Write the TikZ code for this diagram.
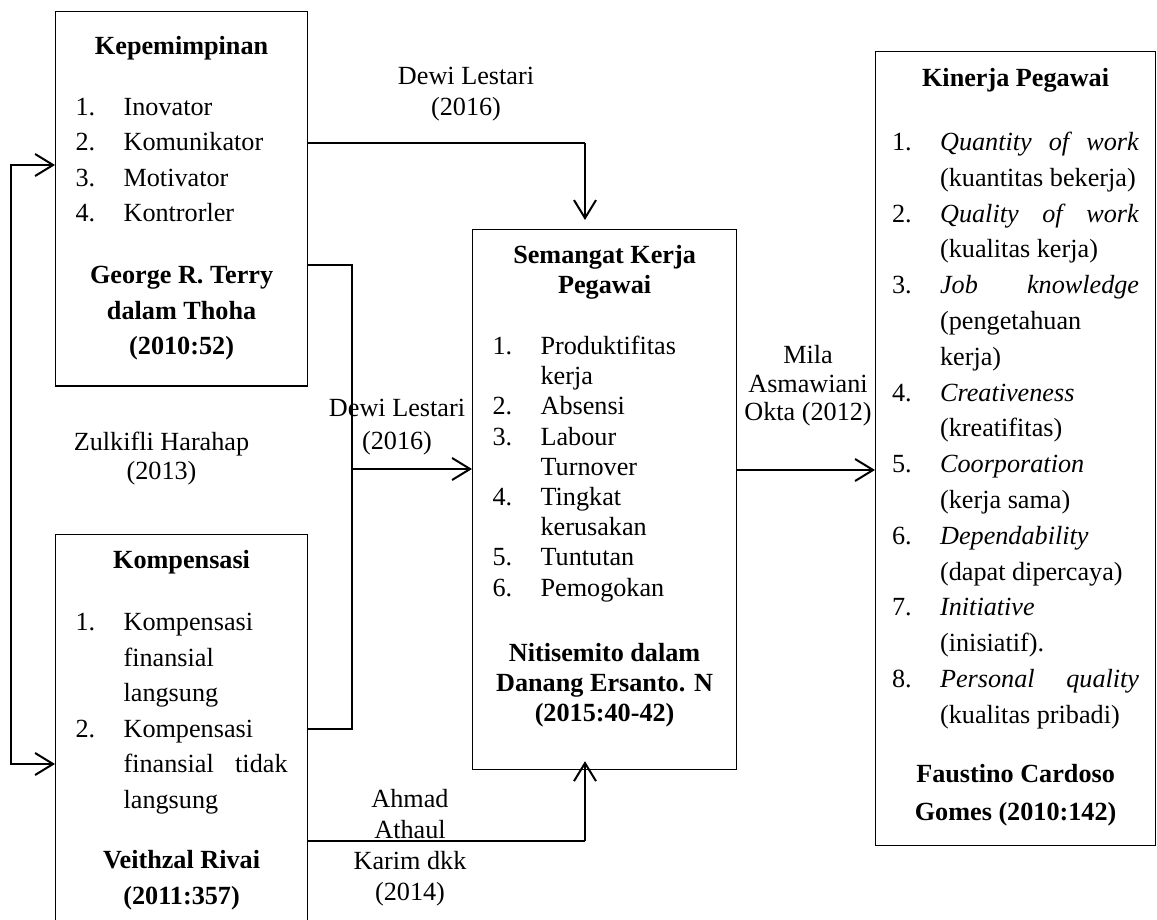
\documentclass[tikz,border=0pt]{standalone}
\usepackage{fontspec}
\setmainfont{Liberation Serif}
\usepackage{tikz}
\usetikzlibrary{positioning,arrows.meta}
\newcommand{\butir}[2]{\par\noindent\hangindent=24pt\hangafter=1\makebox[24pt][l]{#1}#2\par}
\tikzstyle{kotak}=[draw,line width=0.6pt,anchor=north west,inner ysep=0pt,align=justify,font=\fontsize{13.1}{17.75}\selectfont]
\tikzstyle{ket}=[inner sep=0pt,align=center,font=\fontsize{13.1}{15.5}\selectfont]

\begin{document}
\begin{tikzpicture}[x=0.5pt,y=-0.5pt,
    garis/.style={line width=0.6pt},
    panah/.style={line width=1pt,-{Straight Barb[length=9pt,width=11pt]}},
    panah2/.style={line width=1pt,{Straight Barb[length=9pt,width=11pt]}-{Straight Barb[length=9pt,width=11pt]}}]
  \useasboundingbox (0,0) rectangle (1157,920);

  \node[kotak,inner xsep=10pt,text width=106pt] (kep) at (55,11) {%
    {\centering\rule{0pt}{21.5pt}\textbf{Kepemimpinan}\par}
    \vspace{12.7pt}
    \butir{1.}{Inovator}
    \butir{2.}{Komunikator}
    \butir{3.}{Motivator}
    \butir{4.}{Kontrorler}
    \vspace{13.2pt}
    {\centering\textbf{George R. Terry\\dalam Thoha\\(2010:52)}\rule[-15.5pt]{0pt}{15.5pt}\par}};
  \node[kotak,inner xsep=10pt,text width=106pt] (komp) [below=73.8pt of kep.south west,anchor=north west] {%
    {\centering\rule{0pt}{17pt}\textbf{Kompensasi}\par}
    \vspace{13.25pt}
    \butir{1.}{Kompensasi\linebreak finansial\linebreak langsung}
    \butir{2.}{Kompensasi\linebreak finansial tidak\linebreak langsung}
    \vspace{12.5pt}
    {\centering\textbf{Veithzal Rivai\\(2011:357)}\rule[-12pt]{0pt}{12pt}\par}};
  \node[kotak,inner xsep=10pt,text width=112pt,font=\fontsize{13.1}{15.1}\selectfont] (sem) at (472,229) {%
    {\centering\rule{0pt}{17pt}\textbf{Semangat Kerja\\Pegawai}\par}
    \vspace{15.3pt}
    \butir{1.}{Produktifitas\linebreak kerja}
    \butir{2.}{Absensi}
    \butir{3.}{Labour\linebreak Turnover}
    \butir{4.}{Tingkat\linebreak kerusakan}
    \butir{5.}{Tuntutan}
    \butir{6.}{Pemogokan}
    \vspace{17.6pt}
    {\centering\textbf{Nitisemito dalam\\Danang Ersanto. N\\(2015:40-42)}\rule[-23.8pt]{0pt}{23.8pt}\par}};
  \node[kotak,inner xsep=8.25pt,text width=123.5pt,font=\fontsize{13.1}{17.9}\selectfont] (kin) at (875,51) {%
    {\centering\rule{0pt}{17.5pt}\textbf{Kinerja Pegawai}\par}
    \vspace{14.1pt}
    \butir{1.}{\emph{Quantity of work}\linebreak (kuantitas bekerja)}
    \butir{2.}{\emph{Quality of work}\linebreak (kualitas kerja)}
    \butir{3.}{\emph{Job knowledge}\linebreak (pengetahuan\linebreak kerja)}
    \butir{4.}{\emph{Creativeness}\linebreak (kreatifitas)}
    \butir{5.}{\emph{Coorporation}\linebreak (kerja sama)}
    \butir{6.}{\emph{Dependability}\linebreak (dapat dipercaya)}
    \butir{7.}{\emph{Initiative}\linebreak (inisiatif).}
    \butir{8.}{\emph{Personal quality}\linebreak (kualitas pribadi)}
    \vspace{11.7pt}
    {\centering\textbf{Faustino Cardoso\\[1.1pt]Gomes (2010:142)}\rule[-12.5pt]{0pt}{12.5pt}\par}};

  \node[ket] (dl1) at (466,94.5) {Dewi Lestari\\(2016)};
  \node[ket,font=\fontsize{13.1}{16.5}\selectfont] (dl2) at (397,427.5) {Dewi Lestari\\(2016)};
  \node[ket,font=\fontsize{13.1}{14.5}\selectfont] (zh) at (161.5,458.5) {Zulkifli Harahap\\(2013)};
  \node[ket] (aak) at (410,847.5) {Ahmad\\Athaul\\Karim dkk\\(2014)};
  \node[ket,font=\fontsize{13.1}{14.25}\selectfont] (mao) at (808,386) {Mila\\Asmawiani\\Okta (2012)};

  \coordinate (a1) at (585,143);
  \coordinate (b1) at (352,265);
  \coordinate (b2) at (352,729);
  \coordinate (b3) at (352,469);
  \coordinate (k1) at (11,165);
  \coordinate (k2) at (11,764);
  \coordinate (d1) at (585,841);
  \coordinate (m1) at (736,470);

  \draw[garis] (kep.east |- a1) -- (a1);
  \draw[panah,shorten >=4.5pt] (a1) -- (a1 |- sem.north);
  \draw[garis] (kep.east |- b1) -- (b1) -- (b2) -- (komp.east |- b2);
  \draw[panah] (b3) -- (sem.west |- b3);
  \draw[panah2] (kep.west |- k1) -- (k1) -- (k2) -- (komp.west |- k2);
  \draw[garis] (komp.east |- d1) -- (d1);
  \draw[panah,shorten >=-4.5pt] (d1) -- (d1 |- sem.south);
  \draw[panah] (sem.east |- m1) -- (kin.west |- m1);
\end{tikzpicture}
\end{document}
